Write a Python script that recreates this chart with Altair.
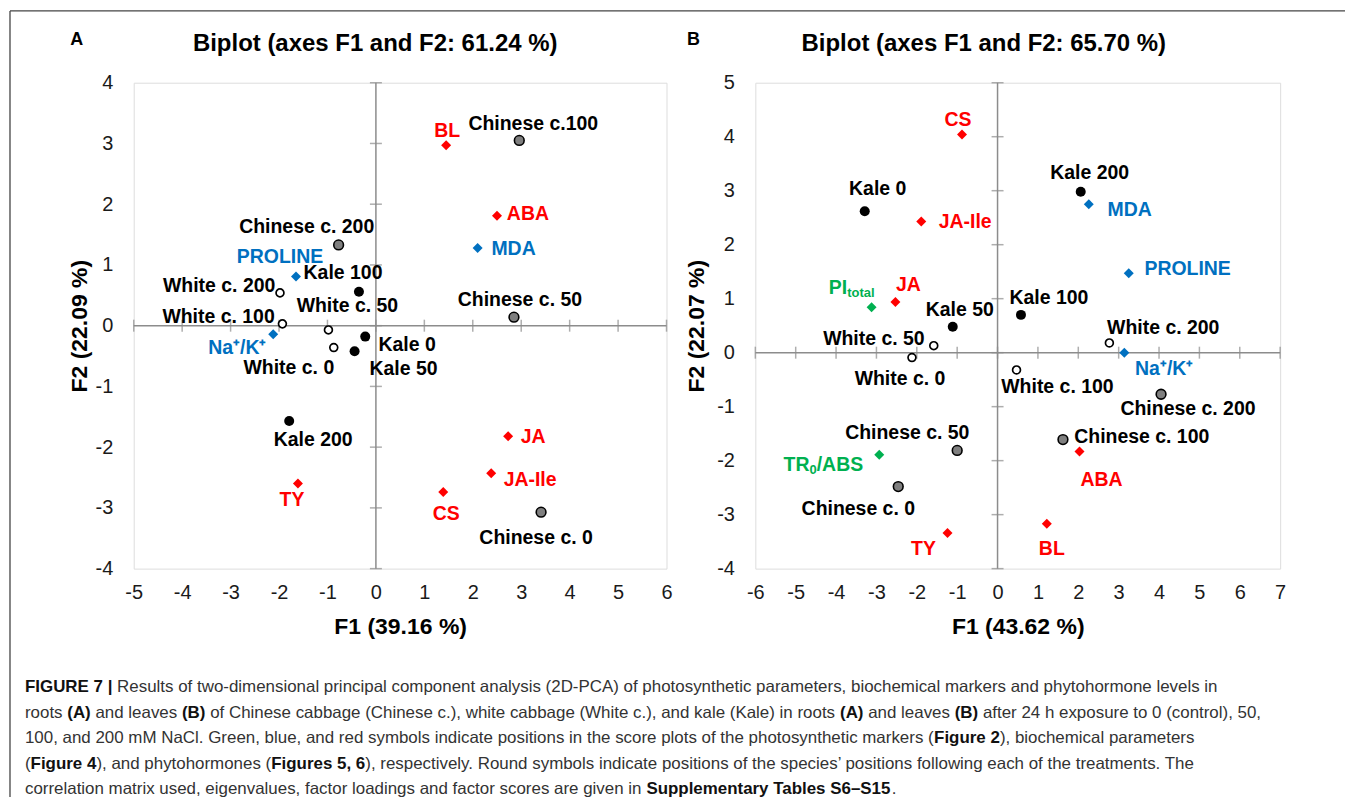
import altair as alt
import pandas as pd

FONT = "Liberation Sans"
GRID = "#8c8c8c"
FRAME = "#a6a6a6"
RED, BLUE, GREEN = "#FF0000", "#0070C0", "#00B050"

# ---------------- Panel A (roots) ----------------
A_NAMES = ["Chinese c.100", "Chinese c. 200", "Chinese c. 50", "Chinese c. 0",
           "White c. 200", "White c. 100", "White c. 50", "White c. 0",
           "Kale 100", "Kale 0", "Kale 50", "Kale 200",
           "BL", "ABA", "JA", "JA-Ile", "TY", "CS",
           "MDA", "PROLINE", "Na⁺/K⁺"]
A_F1 = [2.96, -0.77, 2.85, 3.41, -1.98, -1.93, -0.98, -0.87,
        -0.35, -0.22, -0.44, -1.79,
        1.45, 2.50, 2.73, 2.38, -1.61, 1.39,
        2.10, -1.65, -2.12]
A_F2 = [3.05, 1.33, 0.14, -3.07, 0.54, 0.03, -0.07, -0.36,
        0.56, -0.18, -0.42, -1.57,
        2.97, 1.81, -1.82, -2.43, -2.60, -2.74,
        1.28, 0.81, -0.14]
A_KIND = ["chinese"] * 4 + ["white"] * 4 + ["kale"] * 4 + ["hormone"] * 6 + ["biochem"] * 3
A_XTICKS = list(range(-5, 7))
A_YTICKS = list(range(-4, 5))
A_TITLE = "Biplot (axes F1 and F2: 61.24 %)"
A_XTITLE = "F1 (39.16 %)"
A_YTITLE = "F2 (22.09 %)"

# ---------------- Panel B (leaves) ----------------
B_NAMES = ["Chinese c. 200", "Chinese c. 100", "Chinese c. 50", "Chinese c. 0",
           "White c. 200", "White c. 100", "White c. 50", "White c. 0",
           "Kale 200", "Kale 100", "Kale 50", "Kale 0",
           "CS", "JA-Ile", "JA", "ABA", "BL", "TY",
           "MDA", "PROLINE", "Na⁺/K⁺",
           "PI_total", "TR0/ABS"]
B_F1 = [4.05, 1.62, -1.00, -2.46, 2.77, 0.47, -1.58, -2.12,
        2.06, 0.58, -1.11, -3.29,
        -0.88, -1.89, -2.53, 2.03, 1.22, -1.24,
        2.26, 3.25, 3.14,
        -3.12, -2.93]
B_F2 = [-0.77, -1.61, -1.81, -2.48, 0.18, -0.32, 0.13, -0.09,
        2.98, 0.70, 0.48, 2.62,
        4.04, 2.43, 0.94, -1.83, -3.17, -3.34,
        2.75, 1.47, 0.00,
        0.84, -1.89]
B_KIND = ["chinese"] * 4 + ["white"] * 4 + ["kale"] * 4 + ["hormone"] * 6 + ["biochem"] * 3 + ["photo"] * 2
B_XTICKS = list(range(-6, 8))
B_YTICKS = list(range(-4, 6))
B_TITLE = "Biplot (axes F1 and F2: 65.70 %)"
B_XTITLE = "F1 (43.62 %)"
B_YTITLE = "F2 (22.07 %)"

# ---------------- label offsets (style: pixel offsets of label centres) ----------------
A_OFF = {"Chinese c.100": (14, -16), "Chinese c. 200": (-32, -18), "Chinese c. 50": (6, -17),
         "Chinese c. 0": (-5, 26), "White c. 200": (-61, -7), "White c. 100": (-64, -7),
         "White c. 50": (19, -24), "White c. 0": (-45, 21), "Kale 100": (-16, -19),
         "Kale 0": (42, 8), "Kale 50": (49, 18), "Kale 200": (24, 19), "BL": (1, -14),
         "ABA": (31, -2), "JA": (25, 1), "JA-Ile": (39, 7), "TY": (-6, 16), "CS": (3, 22),
         "MDA": (36, 1), "PROLINE": (-16, -20), "Na⁺/K⁺": (-36, 14)}
B_OFF = {"CS": (-4, -15), "Kale 200": (9, -19), "MDA": (41, 6), "Kale 0": (13, -22),
         "JA-Ile": (44, 1), "PROLINE": (59, -4), "JA": (13, -17), "Kale 50": (7, -17),
         "Kale 100": (28, -17), "White c. 200": (54, -15), "White c. 50": (-60, -7),
         "Na⁺/K⁺": (40, 16), "White c. 0": (-12, 22), "White c. 100": (41, 17),
         "Chinese c. 200": (27, 15), "Chinese c. 100": (79, -3), "ABA": (22, 29),
         "Chinese c. 50": (-50, -17), "Chinese c. 0": (-40, 22), "BL": (5, 25),
         "TY": (-24, 16), "PI_total": (-20, -19), "TR0/ABS": (-56, 10)}
LABEL_FS = 19.5
COMPOSITE = {"PI_total": [("PI", LABEL_FS, 0), ("total", 13, 5)],
             "TR0/ABS": [("TR", LABEL_FS, 0), ("0", 13, 5), ("/ABS", LABEL_FS, 0)]}

KIND_COLOR = {"chinese": "black", "white": "black", "kale": "black",
              "hormone": RED, "biochem": BLUE, "photo": GREEN}

# ---------------- Helvetica/Arial metrics for text layout ----------------
REG = {' ': 278, '(': 333, ')': 333, ',': 278, '-': 333, '.': 278, '/': 278, ':': 278,
       '|': 260, '%': 889, '–': 556, '’': 222, "'": 191}
BOLD = {' ': 278, '(': 333, ')': 333, ',': 278, '-': 333, '.': 278, '/': 278, ':': 333,
        '|': 280, '%': 889, '–': 556, '’': 278, "'": 238}
for d in "0123456789":
    REG[d] = 556
    BOLD[d] = 556
UP = "ABCDEFGHIJKLMNOPQRSTUVWXYZ"
LO = "abcdefghijklmnopqrstuvwxyz"
REG.update(zip(UP, [667, 667, 722, 722, 667, 611, 778, 722, 278, 500, 667, 556, 833, 722, 778, 667,
                    778, 722, 667, 611, 722, 667, 944, 667, 667, 611]))
REG.update(zip(LO, [556, 556, 500, 556, 556, 278, 556, 556, 222, 222, 500, 222, 833, 556, 556, 556,
                    556, 333, 500, 278, 556, 500, 722, 500, 500, 500]))
BOLD.update(zip(UP, [722, 722, 722, 722, 667, 611, 778, 722, 278, 556, 722, 611, 833, 722, 778, 667,
                     778, 722, 667, 611, 722, 667, 944, 667, 667, 611]))
BOLD.update(zip(LO, [556, 611, 556, 611, 556, 333, 611, 611, 278, 278, 556, 278, 889, 611, 611, 611,
                     611, 389, 556, 333, 611, 556, 778, 556, 556, 500]))


def text_w(s, size, bold=False):
    tab = BOLD if bold else REG
    return sum(tab.get(c, 556) for c in s) * size / 1000.0


CAPTION = [
    [("FIGURE 7 |", True), (" Results of two-dimensional principal component analysis (2D-PCA) of photosynthetic parameters, biochemical markers and phytohormone levels in", False)],
    [("roots ", False), ("(A)", True), (" and leaves ", False), ("(B)", True),
     (" of Chinese cabbage (Chinese c.), white cabbage (White c.), and kale (Kale) in roots ", False),
     ("(A)", True), (" and leaves ", False), ("(B)", True), (" after 24 h exposure to 0 (control), 50,", False)],
    [("100, and 200 mM NaCl. Green, blue, and red symbols indicate positions in the score plots of the photosynthetic markers (", False),
     ("Figure 2", True), ("), biochemical parameters", False)],
    [("(", False), ("Figure 4", True), ("), and phytohormones (", False), ("Figures 5, 6", True),
     ("), respectively. Round symbols indicate positions of the species’ positions following each of the treatments. The", False)],
    [("correlation matrix used, eigenvalues, factor loadings and factor scores are given in ", False),
     ("Supplementary Tables S6–S15", True), (".", False)],
]

ONE = pd.DataFrame({"z": [0]})


def panel(names, f1, f2, kinds, xt, yt, title, xtitle, ytitle, width, height, offsets,
          ytitle_x, title_x, letter, letter_x, extra=None):
    df = pd.DataFrame({"name": names, "F1": f1, "F2": f2, "kind": kinds})
    xs = alt.Scale(domain=[xt[0], xt[-1]], nice=False, zero=False)
    ys = alt.Scale(domain=[yt[0], yt[-1]], nice=False, zero=False)
    common = dict(grid=False, ticks=False, domain=False, labelFlush=False, labelOverlap=False,
                  labelFont=FONT, labelFontSize=20, labelColor="#1a1a1a",
                  labelExpr="'' + datum.value",
                  titleFont=FONT, titleFontSize=23, titleFontWeight="bold", titleColor="black",
                  titleAlign="center", titleBaseline="middle")
    xax = alt.Axis(title=xtitle, values=xt, labelPadding=14, titleX=width / 2, titleY=58, **common)
    yax = alt.Axis(title=ytitle, values=yt, labelPadding=21, titleX=ytitle_x, titleY=height / 2,
                   titleAngle=-90, **common)

    def X(f):
        return alt.X(f"{f}:Q", scale=xs, axis=xax)

    def Y(f):
        return alt.Y(f"{f}:Q", scale=ys, axis=yax)

    layers = []
    layers.append(alt.Chart(ONE).mark_rule(color=GRID, strokeWidth=1.5).encode(y=Y("z")))
    layers.append(alt.Chart(ONE).mark_rule(color=GRID, strokeWidth=1.5).encode(x=X("z")))
    tx = pd.DataFrame({"v": xt, "z": [0] * len(xt)})
    ty = pd.DataFrame({"v": yt, "z": [0] * len(yt)})
    layers.append(alt.Chart(tx).mark_tick(orient="vertical", size=12, thickness=1.5, color=GRID)
                  .encode(x=X("v"), y=Y("z")))
    layers.append(alt.Chart(ty).mark_tick(orient="horizontal", size=12, thickness=1.5, color=GRID)
                  .encode(y=Y("v"), x=X("z")))

    base = alt.Chart(df)
    layers.append(base.transform_filter(alt.datum.kind == "kale")
                  .mark_circle(size=100, color="black", opacity=1).encode(x=X("F1"), y=Y("F2")))
    layers.append(base.transform_filter(alt.datum.kind == "chinese")
                  .mark_circle(size=95, fill="#7f7f7f", stroke="black", strokeWidth=1.6, opacity=1)
                  .encode(x=X("F1"), y=Y("F2")))
    layers.append(base.transform_filter(alt.datum.kind == "white")
                  .mark_circle(size=62, fill="white", stroke="black", strokeWidth=1.7, opacity=1)
                  .encode(x=X("F1"), y=Y("F2")))
    layers.append(base.transform_filter((alt.datum.kind == "hormone") | (alt.datum.kind == "biochem")
                                        | (alt.datum.kind == "photo"))
                  .mark_point(shape="diamond", filled=True, size=100, opacity=1)
                  .encode(x=X("F1"), y=Y("F2"),
                          color=alt.Color("kind:N", legend=None,
                                          scale=alt.Scale(domain=["hormone", "biochem", "photo"],
                                                          range=[RED, BLUE, GREEN]))))

    for n, k in zip(names, kinds):
        dx, dy = offsets[n]
        col = KIND_COLOR[k]
        sub = base.transform_filter(alt.datum.name == n)
        if n in COMPOSITE:
            parts = COMPOSITE[n]
            total = sum(text_w(t, s, True) for t, s, _ in parts)
            x0 = dx - total / 2
            for t, s, sdy in parts:
                layers.append(sub.mark_text(align="left", baseline="middle", dx=x0, dy=dy + sdy,
                                            font=FONT, fontSize=s, fontWeight="bold", color=col)
                              .encode(x=X("F1"), y=Y("F2"), text=alt.value(t)))
                x0 += text_w(t, s, True)
        else:
            layers.append(sub.mark_text(align="center", baseline="middle", dx=dx, dy=dy,
                                        font=FONT, fontSize=LABEL_FS, fontWeight="bold", color=col)
                          .encode(x=X("F1"), y=Y("F2"), text="name:N"))

    layers.append(alt.Chart(ONE).mark_text(align="center", baseline="middle", font=FONT, fontSize=24,
                                           fontWeight="bold", color="black")
                  .encode(x=alt.value(title_x), y=alt.value(-39), text=alt.value(title)))
    layers.append(alt.Chart(ONE).mark_text(align="center", baseline="middle", font=FONT, fontSize=18,
                                           fontWeight="bold", color="black")
                  .encode(x=alt.value(letter_x), y=alt.value(-43), text=alt.value(letter)))
    if extra:
        layers.extend(extra)
    return alt.layer(*layers).properties(width=width, height=height)


# ---------------- layout (pixels) ----------------
WA, WB, H = 534, 526, 487
A_LEFT, B_LEFT, TOP = 132, 755, 80     # page positions of plot areas
SPACING = B_LEFT - (A_LEFT + WA)
ORIGIN_X, ORIGIN_Y = 8 - A_LEFT, 8 - TOP   # page (8, 8) relative to panel A plot
RIGHT_X = 1346 - A_LEFT
BOTTOM_Y = 796 - TOP

extra = []
extra.append(alt.Chart(ONE).mark_rule(color="#444444", strokeWidth=1.3)
             .encode(x=alt.value(ORIGIN_X), x2=alt.value(RIGHT_X), y=alt.value(ORIGIN_Y)))
extra.append(alt.Chart(ONE).mark_rule(color="#444444", strokeWidth=1.3)
             .encode(x=alt.value(ORIGIN_X), y=alt.value(ORIGIN_Y), y2=alt.value(BOTTOM_Y)))

# caption: font size fitted so that line 2 spans the same width as in the figure
cap_x0 = 23 - A_LEFT
line2_units = sum(text_w(t, 1000, b) for t, b in CAPTION[1]) / 1000.0
CAP_FS = 1239 / line2_units
cap_centres = [685, 710.5, 736, 761.5, 787]
for (segs, yc) in zip(CAPTION, cap_centres):
    x = cap_x0
    for t, b in segs:
        lead = len(t) - len(t.lstrip(" "))
        xs_ = x + text_w(" " * lead, CAP_FS, b)
        s = t.strip(" ")
        if s:
            extra.append(alt.Chart(ONE).mark_text(align="left", baseline="alphabetic", font=FONT,
                                                  fontSize=CAP_FS,
                                                  fontWeight="bold" if b else "normal",
                                                  color="#111111" if b else "#333333")
                         .encode(x=alt.value(xs_), y=alt.value(yc + 0.35 * CAP_FS - TOP),
                                 text=alt.value(s)))
        x += text_w(t, CAP_FS, b)

pa = panel(A_NAMES, A_F1, A_F2, A_KIND, A_XTICKS, A_YTICKS, A_TITLE, A_XTITLE, A_YTITLE,
           WA, H, A_OFF, ytitle_x=-54, title_x=374 - A_LEFT, letter="A", letter_x=75 - A_LEFT,
           extra=extra)
pb = panel(B_NAMES, B_F1, B_F2, B_KIND, B_XTICKS, B_YTICKS, B_TITLE, B_XTITLE, B_YTITLE,
           WB, H, B_OFF, ytitle_x=-59, title_x=984 - B_LEFT, letter="B", letter_x=693 - B_LEFT)

chart = alt.hconcat(pa, pb, spacing=SPACING, bounds="flush", padding=0).configure_view(
    stroke=FRAME, strokeWidth=1.5).configure(background="white")

chart.save("out.html", embed_options={"renderer": "svg", "actions": False})
